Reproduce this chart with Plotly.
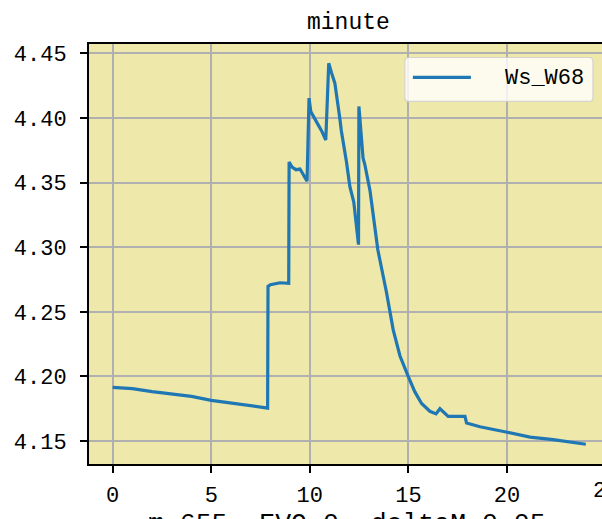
import plotly.graph_objects as go

# ---- data ----
minutes = [0.0, 1.0, 2.0, 3.0, 4.0, 5.0, 6.0, 7.0, 7.86,
           7.88, 8.0, 8.5, 8.93,
           8.95, 9.1, 9.3, 9.5, 9.6, 9.86,
           9.96, 10.05, 10.34, 10.6, 10.81,
           10.96, 11.1, 11.27, 11.52, 11.6, 11.86, 12.03, 12.23, 12.3, 12.47,
           12.49, 12.6, 12.7, 12.79, 13.05, 13.45, 13.89, 14.23, 14.57, 14.99,
           15.33, 15.67, 16.09, 16.40, 16.60, 17.02, 17.87,
           17.95, 18.63, 19.95, 21.17, 22.34, 23.87, 24.0]
ws_w68 = [4.1915, 4.1905, 4.1882, 4.1862, 4.1845, 4.1815, 4.1795, 4.1775, 4.1755,
          4.2697, 4.2710, 4.2725, 4.2720,
          4.3660, 4.3620, 4.3600, 4.3605, 4.3580, 4.3510,
          4.4154, 4.4050, 4.3970, 4.3900, 4.3830,
          4.4424, 4.4350, 4.4270, 4.4000, 4.3900, 4.3660, 4.3470, 4.3350, 4.3250, 4.3020,
          4.4090, 4.3850, 4.3690, 4.3640, 4.3440, 4.2980, 4.2650, 4.2360, 4.2160, 4.2000,
          4.1880, 4.1790, 4.1730, 4.1710, 4.1750, 4.1690, 4.1690,
          4.1640, 4.1610, 4.1570, 4.1530, 4.1510, 4.1480, 4.1475]
series_name = "Ws_W68"
title_text = "minute"
xlabel_text = "m=655, EVO=0, deltaM=0.05"
x_ticks = [0, 5, 10, 15, 20]
y_ticks = [4.15, 4.20, 4.25, 4.30, 4.35, 4.40, 4.45]
y_ticktext = ["4.15", "4.20", "4.25", "4.30", "4.35", "4.40", "4.45"]

# ---- layout geometry (pixels) ----
W, H = 602, 519
ML, MT, MB, MR = 89.4, 43.5, 55, 0
PW = W - ML - MR
PH = H - MT - MB

def px_x(px):
    return (px - ML) / PW

def px_y(py):
    return (H - MB - py) / PH

FONT = "Liberation Mono, DejaVu Sans Mono, monospace"

fig = go.Figure()
fig.add_trace(go.Scatter(x=minutes, y=ws_w68, mode="lines", name=series_name,
                         line=dict(color="#1f77b4", width=3.2), showlegend=False))

axis_common = dict(showgrid=True, gridcolor="#b0b0b0", gridwidth=1.6,
                   zeroline=False, showline=True, linecolor="black", linewidth=2,
                   ticks="outside", ticklen=7, tickwidth=1.6, tickcolor="black",
                   automargin=False,
                   tickfont=dict(family=FONT, size=22, color="black"))

fig.update_xaxes(range=[-1.2, 24.82], tickvals=x_ticks, mirror=True,
                 ticklabelstandoff=3, **axis_common)
fig.update_yaxes(range=[4.1322, 4.4573], tickvals=y_ticks, ticktext=y_ticktext,
                 mirror=False, ticklabelstandoff=9, **axis_common)

# legend (drawn manually to mimic the reference)
lx0, lx1, ly0, ly1, r = 405, 593, 57, 101, 4
path = (f"M {px_x(lx0 + r)},{px_y(ly0)} L {px_x(lx1 - r)},{px_y(ly0)} "
        f"Q {px_x(lx1)},{px_y(ly0)} {px_x(lx1)},{px_y(ly0 + r)} "
        f"L {px_x(lx1)},{px_y(ly1 - r)} Q {px_x(lx1)},{px_y(ly1)} {px_x(lx1 - r)},{px_y(ly1)} "
        f"L {px_x(lx0 + r)},{px_y(ly1)} Q {px_x(lx0)},{px_y(ly1)} {px_x(lx0)},{px_y(ly1 - r)} "
        f"L {px_x(lx0)},{px_y(ly0 + r)} Q {px_x(lx0)},{px_y(ly0)} {px_x(lx0 + r)},{px_y(ly0)} Z")
fig.add_shape(type="path", path=path, xref="paper", yref="paper",
              fillcolor="rgba(255,255,255,0.8)", line=dict(color="rgba(204,204,204,0.8)", width=1.2))
fig.add_shape(type="line", xref="paper", yref="paper",
              x0=px_x(413), x1=px_x(471), y0=px_y(77), y1=px_y(77),
              line=dict(color="#1f77b4", width=3.2))
fig.add_annotation(text=series_name, xref="paper", yref="paper", x=px_x(503), y=px_y(78),
                   xanchor="left", yanchor="middle", showarrow=False,
                   font=dict(family=FONT, size=22, color="black"))

# title
fig.add_annotation(text=title_text, xref="paper", yref="paper", x=px_x(349), y=px_y(22),
                   xanchor="center", yanchor="middle", showarrow=False,
                   font=dict(family=FONT, size=23, color="black"))
# x label (cut off at the bottom edge as in the reference)
fig.add_annotation(text=xlabel_text, xref="paper", yref="paper", x=px_x(347), y=px_y(507),
                   xanchor="center", yanchor="top", showarrow=False,
                   font=dict(family=FONT, size=26.5, color="black"))
# partial tick label at 25 (clipped by the window edge)
fig.add_annotation(text="25", xref="paper", yref="paper", x=px_x(605.5), y=px_y(492),
                   xanchor="center", yanchor="middle", showarrow=False,
                   font=dict(family=FONT, size=22, color="black"))

fig.update_layout(width=W, height=H, autosize=False,
                  margin=dict(l=ML, r=MR, t=MT, b=MB, pad=0),
                  plot_bgcolor="#EEE8AA", paper_bgcolor="white")

fig.write_html("out.html", config={"displayModeBar": False},
               post_script="document.body.style.margin='0';document.body.style.padding='0';"
                           "document.body.style.overflow='hidden';")
